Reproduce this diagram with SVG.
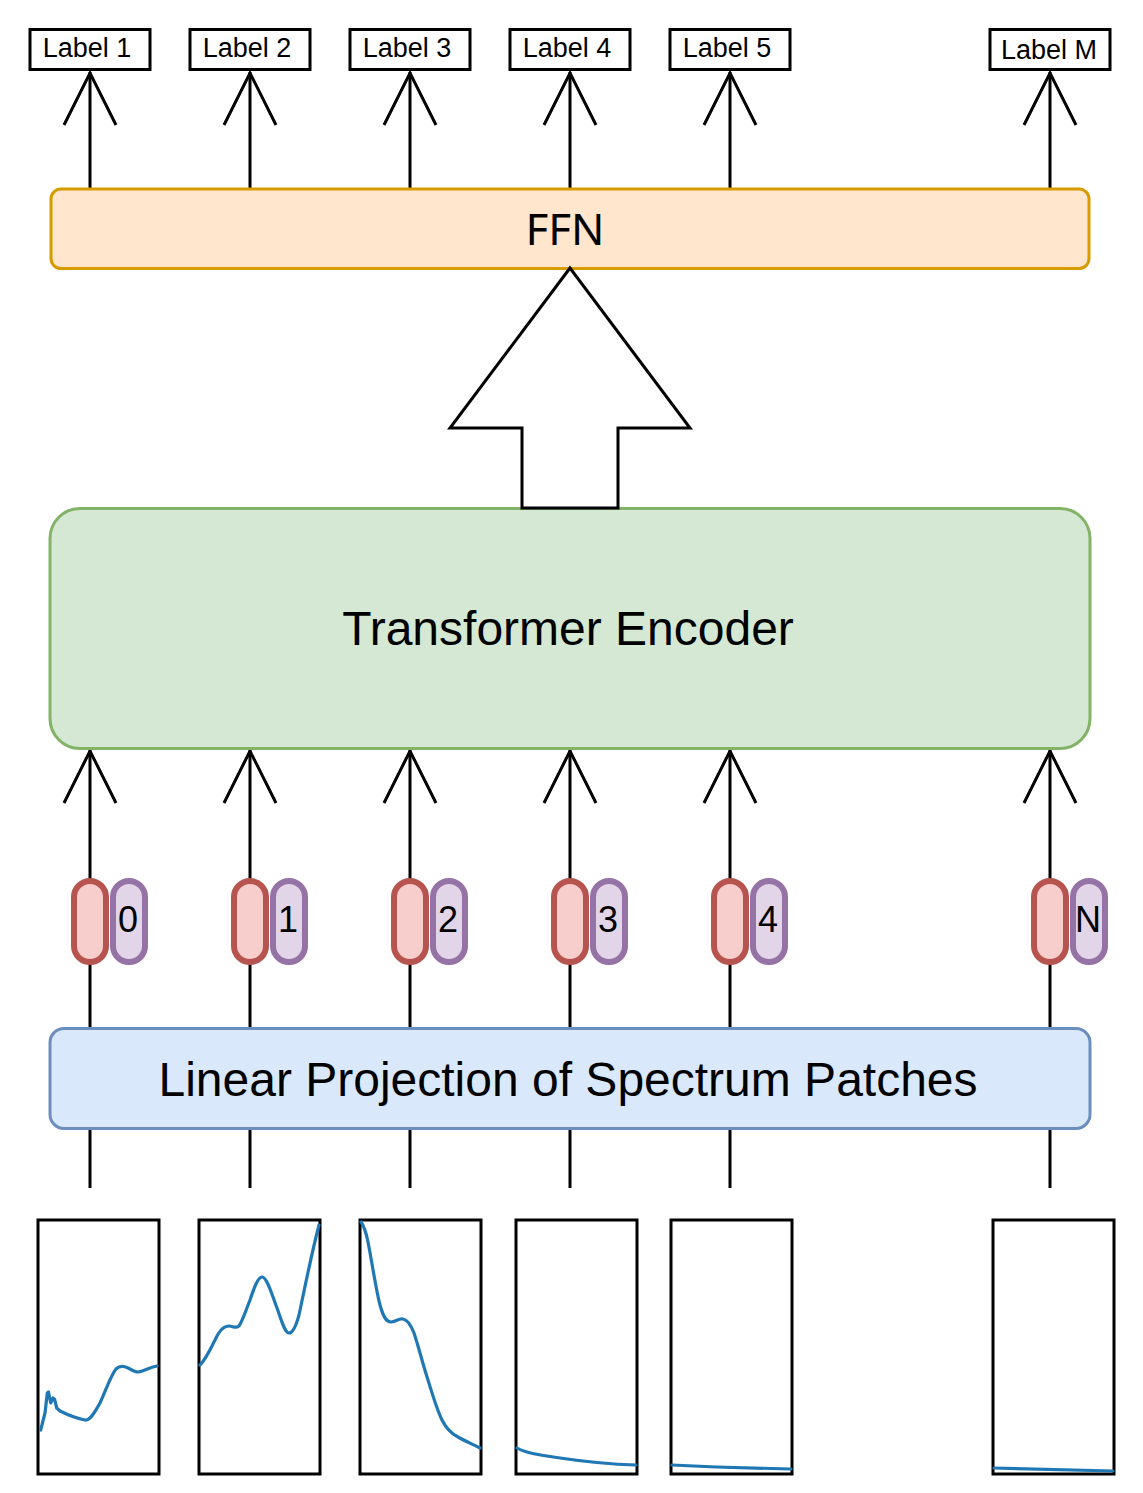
<svg xmlns="http://www.w3.org/2000/svg" xmlns:xlink="http://www.w3.org/1999/xlink" width="1143" height="1493" viewBox="0 0 1143 1493">
<style>
.lbl{fill:#fff;stroke:#000;stroke-width:3}
.lt{font-family:"Liberation Sans",Arial,sans-serif;font-size:27px;fill:#000;text-anchor:middle}
.big{font-family:"Liberation Sans",Arial,sans-serif;font-size:48px;fill:#000;text-anchor:middle}
.tok{font-family:"Liberation Sans",Arial,sans-serif;font-size:36px;fill:#000;text-anchor:middle}
.con{stroke:#000;stroke-width:3;fill:none}
.red{fill:#f8cecc;stroke:#b85450;stroke-width:6}
.pur{fill:#e1d5e7;stroke:#9673a6;stroke-width:6}
.sp{fill:#fff;stroke:#000;stroke-width:3}
.cv{fill:none;stroke:#1f77b4;stroke-width:3.2;stroke-linejoin:round;stroke-linecap:round}
</style>
<defs>
<path id="ah" d="M-26,53 L0,1 L26,53" fill="none" stroke="#000" stroke-width="3"/>
</defs>
<rect width="1143" height="1493" fill="#fff"/>

<g id="connectors">
<path class="con" d="M90,188V72 M250,188V72 M410,188V72 M570,188V72 M730,188V72 M1050,188V72"/>
<use xlink:href="#ah" x="90" y="72"/><use xlink:href="#ah" x="250" y="72"/><use xlink:href="#ah" x="410" y="72"/>
<use xlink:href="#ah" x="570" y="72"/><use xlink:href="#ah" x="730" y="72"/><use xlink:href="#ah" x="1050" y="72"/>
<path class="con" d="M90,1028V750 M250,1028V750 M410,1028V750 M570,1028V750 M730,1028V750 M1050,1028V750"/>
<use xlink:href="#ah" x="90" y="750"/><use xlink:href="#ah" x="250" y="750"/><use xlink:href="#ah" x="410" y="750"/>
<use xlink:href="#ah" x="570" y="750"/><use xlink:href="#ah" x="730" y="750"/><use xlink:href="#ah" x="1050" y="750"/>
<path class="con" d="M90,1128V1188 M250,1128V1188 M410,1128V1188 M570,1128V1188 M730,1128V1188 M1050,1128V1188"/>
</g>

<g id="label1"><rect class="lbl" x="30" y="29.5" width="120" height="40"/><text class="lt" x="87" y="57">Label 1</text></g>
<g id="label2"><rect class="lbl" x="190" y="29.5" width="120" height="40"/><text class="lt" x="247" y="57">Label 2</text></g>
<g id="label3"><rect class="lbl" x="350" y="29.5" width="120" height="40"/><text class="lt" x="407" y="57">Label 3</text></g>
<g id="label4"><rect class="lbl" x="510" y="29.5" width="120" height="40"/><text class="lt" x="567" y="57">Label 4</text></g>
<g id="label5"><rect class="lbl" x="670" y="29.5" width="120" height="40"/><text class="lt" x="727" y="57">Label 5</text></g>
<g id="labelM"><rect class="lbl" x="990" y="29.5" width="120" height="40"/><text class="lt" x="1049" y="59">Label M</text></g>

<g id="ffn"><rect x="51" y="189" width="1038" height="79.5" rx="10" fill="#ffe6cc" stroke="#d79b00" stroke-width="3"/>
<text x="565" y="245" font-family="'Noto Sans','Open Sans',sans-serif" font-size="44" text-anchor="middle" fill="#000">FFN</text></g>

<g id="encoder"><rect x="50" y="508.5" width="1040" height="240" rx="30" fill="#d5e8d4" stroke="#82b366" stroke-width="3"/>
<text class="big" x="568" y="645">Transformer Encoder</text></g>

<g id="bigarrow"><polygon points="570,268 450,428 522,428 522,508 618,508 618,428 690,428" fill="#fff" stroke="#000" stroke-width="3"/></g>

<g id="projection"><rect x="50" y="1028.5" width="1040" height="100" rx="14" fill="#dae8fc" stroke="#6c8ebf" stroke-width="3"/>
<text class="big" x="568" y="1096">Linear Projection of Spectrum Patches</text></g>

<g id="token0"><rect class="red" x="74" y="881" width="32" height="81" rx="16"/><rect class="pur" x="113" y="881" width="32" height="81" rx="16"/><text class="tok" x="128" y="932">0</text></g>
<g id="token1"><rect class="red" x="234" y="881" width="32" height="81" rx="16"/><rect class="pur" x="273" y="881" width="32" height="81" rx="16"/><text class="tok" x="288" y="932">1</text></g>
<g id="token2"><rect class="red" x="394" y="881" width="32" height="81" rx="16"/><rect class="pur" x="433" y="881" width="32" height="81" rx="16"/><text class="tok" x="448" y="932">2</text></g>
<g id="token3"><rect class="red" x="554" y="881" width="32" height="81" rx="16"/><rect class="pur" x="593" y="881" width="32" height="81" rx="16"/><text class="tok" x="608" y="932">3</text></g>
<g id="token4"><rect class="red" x="714" y="881" width="32" height="81" rx="16"/><rect class="pur" x="753" y="881" width="32" height="81" rx="16"/><text class="tok" x="768" y="932">4</text></g>
<g id="tokenN"><rect class="red" x="1034" y="881" width="32" height="81" rx="16"/><rect class="pur" x="1073" y="881" width="32" height="81" rx="16"/><text class="tok" x="1088" y="932">N</text></g>

<g id="spectrum1"><rect class="sp" x="38" y="1220" width="121" height="254"/>
<path class="cv" d="M40.7,1430 L45,1413 L47.3,1393 L48.5,1392 L50.7,1403 L53,1398 L54.5,1399 L56.7,1408 L60,1411 C66,1414 75,1418 85,1420 C90,1421 95,1412 100,1403 C106,1390 111,1375 116,1369 C120,1365 124,1366 128,1368 C132,1370 135,1372 138,1372 C145,1371 150,1367 157,1366"/></g>
<g id="spectrum2"><rect class="sp" x="199" y="1220" width="121" height="254"/>
<path class="cv" d="M200,1365 C206,1359 210,1350 215,1340 C219,1331 223,1326 229,1326 C233,1326 235,1329 239,1326 C243,1320 246,1310 250,1300 C254,1288 258,1277 262,1277 C267,1277 272,1295 277,1308 C282,1322 285,1333 289,1333 C293,1333 296,1326 299,1315 C304,1292 310,1260 319,1225"/></g>
<g id="spectrum3"><rect class="sp" x="360" y="1220" width="121" height="254"/>
<path class="cv" d="M361,1222 C364,1226 366,1232 368,1242 C372,1262 376,1290 380,1305 C383,1316 386,1322 391,1322 C395,1322 399,1318 403,1319 C408,1320 411,1325 414,1333 C419,1348 423,1365 428,1380 C433,1396 437,1410 442,1420 C447,1430 452,1434 458,1437 C465,1441 472,1444 480,1448"/></g>
<g id="spectrum4"><rect class="sp" x="516" y="1220" width="121" height="254"/>
<path class="cv" d="M517,1448 C525,1453 540,1455 560,1458 C580,1461 600,1464 636,1465"/></g>
<g id="spectrum5"><rect class="sp" x="671" y="1220" width="121" height="254"/>
<path class="cv" d="M672,1465 L716,1467 L791,1469"/></g>
<g id="spectrumN"><rect class="sp" x="993" y="1220" width="121" height="254"/>
<path class="cv" d="M994,1468 L1113,1471"/></g>
</svg>
